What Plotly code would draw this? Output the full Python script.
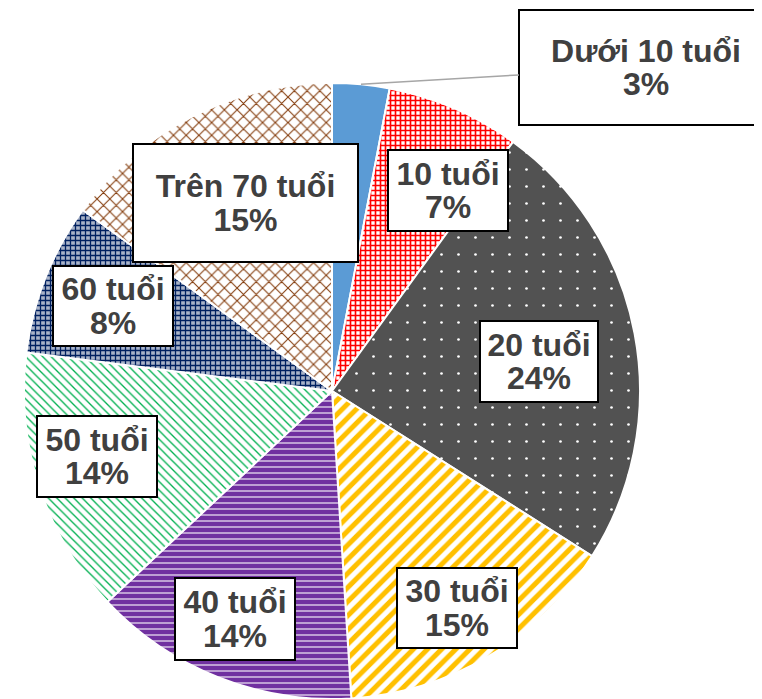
import math
import plotly.graph_objects as go

# ---- data ----
categories = ["Dưới 10 tuổi", "10 tuổi", "20 tuổi", "30 tuổi", "40 tuổi", "50 tuổi", "60 tuổi", "Trên 70 tuổi"]
values = [3, 7, 24, 15, 14, 14, 8, 15]

# ---- styles ----
# the page body has an 8px margin, so the figure is sized to end at the window edge
W, H = 754, 691
colors = ["#5B9BD5", "#FF0000", "#525252", "#FFC000", "#7030A0", "#00B050", "#002060", "#843C0C"]
pat_shape = ["", "+", ".", "/", "-", "\\", "+", "x"]
pat_fg = ["#5B9BD5", "#FF0000", "#FFFFFF", "#FFC000", "#FFFFFF", "#00B050", "#002060", "#843C0C"]
pat_bg = ["#5B9BD5", "#FFFFFF", "#525252", "#FFFFFF", "#7030A0", "#FFFFFF", "#A9B3C8", "#FFFFFF"]
pat_size = [8, 5, 17, 10, 6, 6, 5, 9]
pat_solid = [0.3, 0.55, 0.02, 0.5, 0.18, 0.22, 0.45, 0.22]

dom_x = [0.02122, 0.83820]
dom_y = [0.0, 0.89146]

# label placement (fraction of radius, angular shift in degrees), box sizes
label_r = [1.0, 0.753, 0.68, 0.813, 0.805, 0.792, 0.763, 0.672]
label_shift = [0, 6.6, 2.8, 0.7, 1.5, 2.4, -0.4, 2.3]
box_w = [252, 118, 116, 118, 118, 118, 118, 223]
box_h = [113, 79, 79, 78, 80, 79, 78, 116]
callout_offset = (285, -17)

fig = go.Figure(go.Pie(
    labels=categories,
    values=values,
    sort=False,
    direction="clockwise",
    rotation=0,
    textinfo="none",
    hoverinfo="label+percent",
    domain=dict(x=dom_x, y=dom_y),
    marker=dict(
        colors=colors,
        line=dict(color="white", width=2),
        pattern=dict(shape=pat_shape, fgcolor=pat_fg, bgcolor=pat_bg,
                     size=pat_size, solidity=pat_solid, fillmode="replace"),
    ),
))

cx = (dom_x[0] + dom_x[1]) / 2 * W
cy = (1 - (dom_y[0] + dom_y[1]) / 2) * H
R = min((dom_x[1] - dom_x[0]) * W, (dom_y[1] - dom_y[0]) * H) / 2

total = sum(values)
cum = 0
annotations = []
for i, (cat, v) in enumerate(zip(categories, values)):
    mid = (cum + v / 2) / total * 360
    cum += v
    ang = math.radians(mid + label_shift[i])
    px = cx + label_r[i] * R * math.sin(ang)
    py = cy - label_r[i] * R * math.cos(ang)
    pct = round(v / total * 100)
    text = (f"<span style='font-size:32px'>{cat}</span><br>"
            f"<span style='font-size:32px'>{pct}%</span>")
    common = dict(
        text=text, xref="paper", yref="paper",
        x=px / W, y=1 - py / H,
        font=dict(family="Arial, 'Liberation Sans', sans-serif", size=26, color="#404040", weight="bold"),
        bgcolor="white", bordercolor="black", borderwidth=2, borderpad=0,
        width=box_w[i], height=box_h[i], align="center", valign="middle",
    )
    if i == 0:
        annotations.append(dict(
            **common, showarrow=True, arrowhead=0, arrowwidth=1.5, arrowcolor="#A6A6A6",
            standoff=0, ax=callout_offset[0], ay=callout_offset[1],
        ))
    else:
        annotations.append(dict(**common, showarrow=False, xanchor="center", yanchor="middle"))

fig.update_layout(
    width=W, height=H,
    margin=dict(l=0, r=0, t=0, b=0),
    paper_bgcolor="white", plot_bgcolor="white",
    showlegend=False,
    annotations=annotations,
)

fig.write_html("out.html")
